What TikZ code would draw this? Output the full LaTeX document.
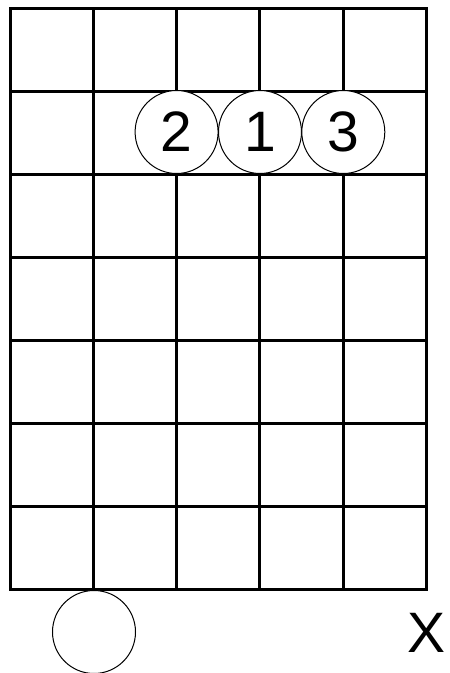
\documentclass[tikz,border=0pt]{standalone}
\usepackage{fontspec}
\setmainfont{Liberation Sans}
\begin{document}
\begin{tikzpicture}[x=1pt,y=-1pt,
  gridline/.style={line width=3pt,line cap=rect},
  finger/.style={circle,draw,line width=1pt,minimum size=83pt,inner sep=0pt,fill=white,font=\fontsize{57}{57}\selectfont},
  mutelabel/.style={font=\fontsize{57}{57}\selectfont,inner sep=0pt}]
\useasboundingbox (0,0) rectangle (450,673);
% grid
\foreach \i in {0,...,5} {
  \draw[gridline] ({10+\i*83.3},8) -- ({10+\i*83.3},589);
}
\foreach \j in {0,...,7} {
  \draw[gridline] (10,{8+\j*83}) -- (426.5,{8+\j*83});
}
\node[finger] (f2) at (176.6,132) {2};
\node[finger] (f1) at (260,132) {1};
\node[finger] (f3) at (343.3,132) {3};
\node[finger] (open) at (94,632) {};
\node[mutelabel] (x) at (426.5,632.5) {X};
\end{tikzpicture}
\end{document}
